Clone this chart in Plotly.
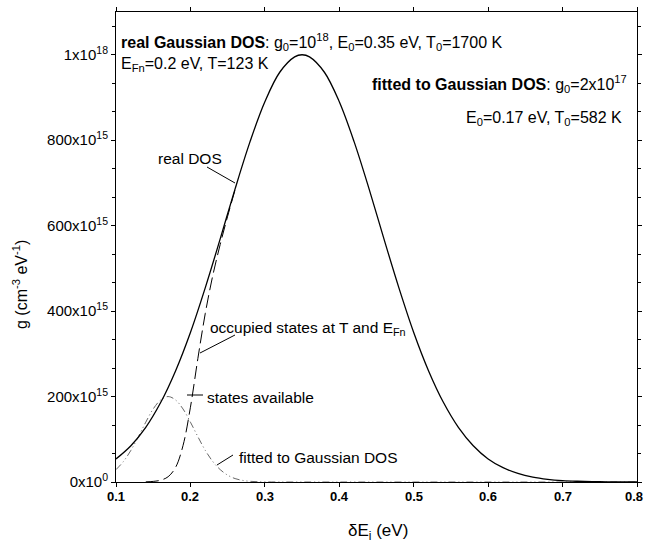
import plotly.graph_objects as go

# ---------------- data ----------------
E_real = [0.10, 0.12, 0.14, 0.16, 0.18, 0.20, 0.22, 0.24, 0.26, 0.28, 0.30, 0.32,
          0.34, 0.35, 0.36, 0.38, 0.40, 0.42, 0.44, 0.46, 0.48, 0.50, 0.52, 0.54,
          0.56, 0.58, 0.60, 0.62, 0.64, 0.66, 0.68, 0.70, 0.72, 0.74, 0.76, 0.78, 0.80]
g_real = [54, 85, 128, 186, 260, 350, 455, 569, 686, 796, 890, 959,
          995, 1000, 995, 959, 890, 796, 686, 569, 455, 350, 260, 186,
          128, 85, 54, 33.5, 20, 11.4, 6.3, 3.3, 1.7, 0.8, 0.4, 0.2, 0.1]  # x1e15

E_fit = [0.10, 0.11, 0.12, 0.13, 0.14, 0.15, 0.16, 0.17, 0.18, 0.19, 0.20,
         0.21, 0.22, 0.23, 0.24, 0.25, 0.26, 0.27, 0.28, 0.29, 0.30, 0.32,
         0.35, 0.40, 0.50, 0.60, 0.70, 0.80]
g_fit = [29, 48, 74, 106, 140, 171, 192, 200, 192, 171, 140,
         106, 74, 48, 29, 16, 8, 3.8, 1.6, 0.7, 0.2, 0.03,
         0, 0, 0, 0, 0, 0]  # x1e15

E_occ = [0.14, 0.15, 0.16, 0.17, 0.18, 0.19, 0.20, 0.21, 0.22, 0.23, 0.24, 0.25, 0.26]
g_occ = [0.4, 1.4, 4.2, 12.3, 34, 85, 175, 289, 395, 483, 556, 622, 684]  # x1e15

unit = 1e15
x_ticks = [0.1, 0.2, 0.3, 0.4, 0.5, 0.6, 0.7, 0.8]
x_tick_text = ["0.1", "0.2", "0.3", "0.4", "0.5", "0.6", "0.7", "0.8"]
y_ticks = [0, 200e15, 400e15, 600e15, 800e15, 1e18]
y_tick_text = ["0x10<sup>0</sup>", "200x10<sup>15</sup>", "400x10<sup>15</sup>",
               "600x10<sup>15</sup>", "800x10<sup>15</sup>", "1x10<sup>18</sup>"]

FONT = "Liberation Sans, Arial, sans-serif"

fig = go.Figure()
fig.add_trace(go.Scatter(x=E_fit, y=[v * unit for v in g_fit], mode="lines",
                         line=dict(color="#666666", width=1, shape="spline",
                                   dash="7px,3px,1px,3px,1px,3px"),
                         showlegend=False, hoverinfo="skip"))
fig.add_trace(go.Scatter(x=E_occ, y=[v * unit for v in g_occ], mode="lines",
                         line=dict(color="black", width=1, shape="spline", dash="13px,5px"),
                         showlegend=False, hoverinfo="skip"))
fig.add_trace(go.Scatter(x=E_real, y=[v * unit for v in g_real], mode="lines",
                         line=dict(color="black", width=1.3, shape="spline"),
                         showlegend=False, hoverinfo="skip"))

L, R, T, B = 116, 8, 12, 68
W, H = 645, 550
PW, PH = W - L - R, H - T - B


def px(x):
    return (x - L) / PW


def py(y):
    return (H - B - y) / PH


annos = []
def txt(text, x, y, xa="left", size=15.5, ya="middle"):
    annos.append(dict(text=text, x=px(x), y=py(y), xref="paper", yref="paper",
                      xanchor=xa, yanchor=ya, showarrow=False,
                      font=dict(size=size, color="black", family=FONT)))

txt("<b>real Gaussian DOS</b>: g<sub>0</sub>=10<sup>18</sup>, E<sub>0</sub>=0.35 eV, T<sub>0</sub>=1700 K", 119, 42, size=16)
txt("E<sub>Fn</sub>=0.2 eV, T=123 K", 119, 64, size=16)
txt("<b>fitted to Gaussian DOS</b>: g<sub>0</sub>=2x10<sup>17</sup>", 629, 84, xa="right", size=16)
txt("E<sub>0</sub>=0.17 eV, T<sub>0</sub>=582 K", 624, 118, xa="right", size=16)
txt("real DOS", 190, 158, xa="center")
txt("occupied states at T and E<sub>Fn</sub>", 208, 328)
txt("states available", 205, 397)
txt("fitted to Gaussian DOS", 237, 457)
txt("δE<sub>i</sub> (eV)", 378, 532, xa="center", size=17)
annos.append(dict(text="g (cm<sup>-3</sup> eV<sup>-1</sup>)", x=px(20), y=py(285),
                  xref="paper", yref="paper", textangle=-90, showarrow=False,
                  xanchor="center", yanchor="middle",
                  font=dict(size=16, color="black", family=FONT)))

# x tick labels (the last one is kept inside the page edge)
for v, t in zip(x_ticks, x_tick_text):
    last = v == x_ticks[-1]
    annos.append(dict(text=t, x=(px(W) if last else v), xref=("paper" if last else "x"),
                      y=py(487), yref="paper", xanchor=("right" if last else "center"),
                      yanchor="top", showarrow=False,
                      font=dict(size=13, color="black", family=FONT, weight="bold")))

shapes = []
for (x0, y0, x1, y1) in [(207, 167, 235, 183), (235, 335, 200, 353),
                         (203, 395, 187, 395), (233, 455, 217, 465)]:
    shapes.append(dict(type="line", xref="paper", yref="paper",
                       x0=px(x0), y0=py(y0), x1=px(x1), y1=py(y1),
                       line=dict(color="black", width=1)))

fig.update_layout(
    width=W, height=H,
    margin=dict(l=L, r=R, t=T, b=B, autoexpand=False),
    paper_bgcolor="white", plot_bgcolor="white",
    font=dict(family=FONT, color="black", size=13),
    annotations=annos, shapes=shapes,
    xaxis=dict(range=[0.1, 0.8], tickvals=x_ticks, showticklabels=False,
               ticks="outside", ticklen=4, tickcolor="black", showline=True,
               linecolor="black", linewidth=1, mirror="ticks", showgrid=False,
               zeroline=False, automargin=False),
    yaxis=dict(range=[0, 1.1e18], tickvals=y_ticks, ticktext=y_tick_text,
               ticks="outside", ticklen=4, tickcolor="black", showline=True,
               linecolor="black", linewidth=1, mirror="ticks", showgrid=False,
               zeroline=False, automargin=False, tickfont=dict(size=15),
               minor=dict(ticks="outside", ticklen=3, dtick=200e15 / 3, tickcolor="black")),
)

fig.write_html("out.html", config={"displayModeBar": False},
               post_script="document.body.style.margin='0';document.body.style.overflow='hidden';")
